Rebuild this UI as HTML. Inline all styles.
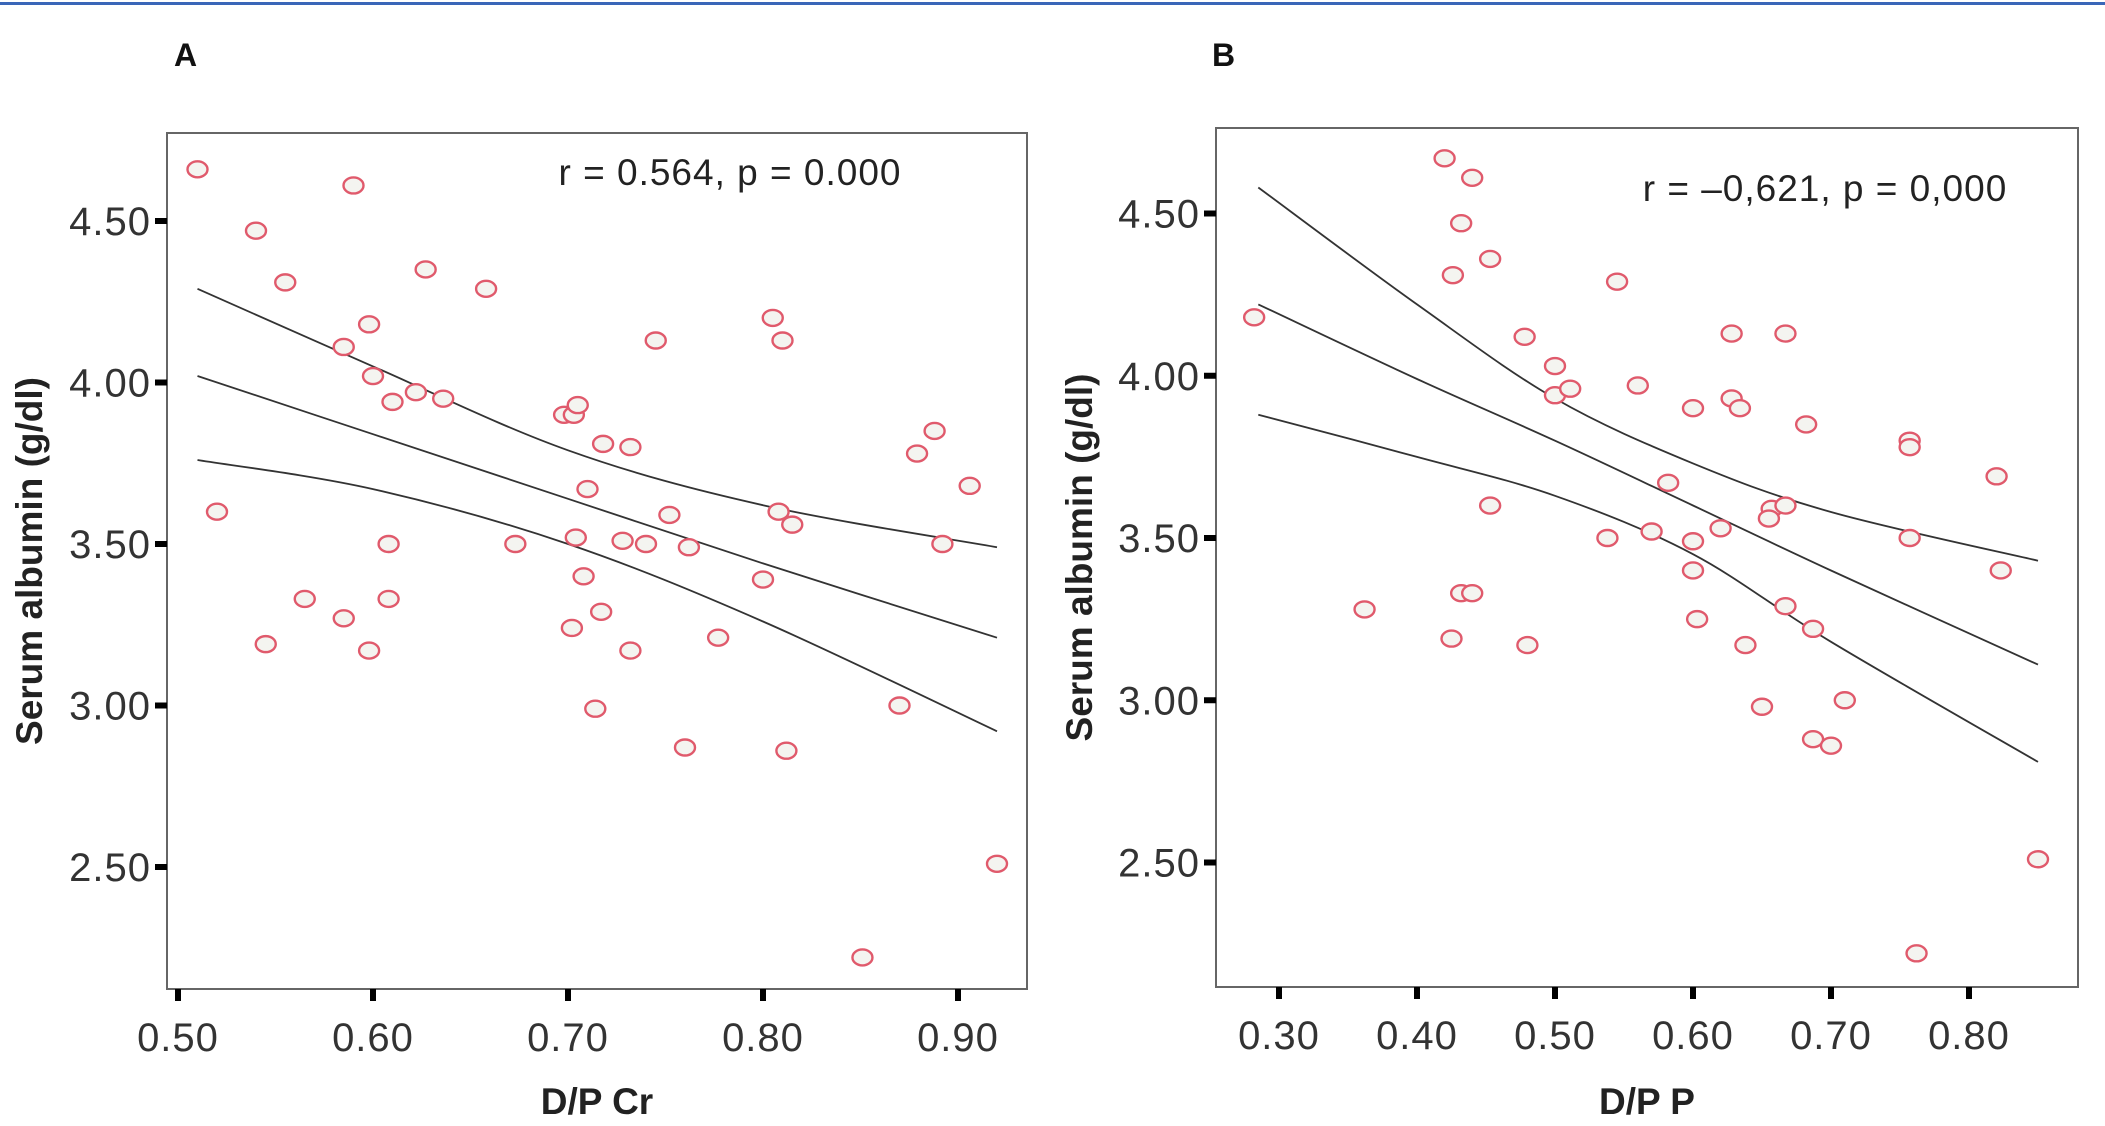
<!DOCTYPE html>
<html><head><meta charset="utf-8"><style>
html,body{margin:0;padding:0;background:#fff;}
svg{display:block;font-family:"Liberation Sans",sans-serif;}
</style></head><body>
<svg id="fig" width="2105" height="1126" viewBox="0 0 2105 1126">
<rect x="0" y="2" width="2105" height="3" fill="#3a66b8"/>
</svg>
<script>
const aX=[0.51,0.59,0.54,0.555,0.627,0.658,0.598,0.585,0.805,0.81,0.745,0.60,0.61,0.622,0.636,0.698,0.703,0.705,0.718,0.732,0.888,0.879,0.906,0.71,0.752,0.808,0.815,0.52,0.608,0.673,0.704,0.728,0.74,0.762,0.892,0.708,0.80,0.565,0.608,0.585,0.717,0.702,0.545,0.598,0.732,0.777,0.714,0.87,0.76,0.812,0.92,0.851];
const aY=[4.66,4.61,4.47,4.31,4.35,4.29,4.18,4.11,4.20,4.13,4.13,4.02,3.94,3.97,3.95,3.90,3.90,3.93,3.81,3.80,3.85,3.78,3.68,3.67,3.59,3.60,3.56,3.60,3.50,3.50,3.52,3.51,3.50,3.49,3.50,3.40,3.39,3.33,3.33,3.27,3.29,3.24,3.19,3.17,3.17,3.21,2.99,3.00,2.87,2.86,2.51,2.22];
const aLineX=[0.51,0.60,0.70,0.80,0.92];
const aFit=[4.02,3.84,3.64,3.44,3.21];
const aUpper=[4.29,4.05,3.79,3.62,3.49];
const aLower=[3.76,3.67,3.50,3.26,2.92];
const aXTicks=[0.50,0.60,0.70,0.80,0.90];
const aYTicks=[2.50,3.00,3.50,4.00,4.50];

const bX=[0.282,0.42,0.44,0.432,0.453,0.426,0.545,0.478,0.628,0.667,0.50,0.50,0.511,0.56,0.60,0.628,0.634,0.682,0.757,0.757,0.82,0.582,0.453,0.657,0.655,0.667,0.538,0.57,0.60,0.62,0.757,0.60,0.823,0.362,0.432,0.44,0.603,0.667,0.687,0.425,0.48,0.638,0.65,0.71,0.687,0.70,0.85,0.762];
const bY=[4.18,4.67,4.61,4.47,4.36,4.31,4.29,4.12,4.13,4.13,4.03,3.94,3.96,3.97,3.90,3.93,3.90,3.85,3.80,3.78,3.69,3.67,3.60,3.59,3.56,3.60,3.50,3.52,3.49,3.53,3.50,3.40,3.40,3.28,3.33,3.33,3.25,3.29,3.22,3.19,3.17,3.17,2.98,3.00,2.88,2.86,2.51,2.22];
const bLineX=[0.285,0.40,0.50,0.60,0.70,0.85];
const bFit=[4.22,3.99,3.80,3.60,3.40,3.11];
const bUpper=[4.58,4.22,3.93,3.73,3.58,3.43];
const bLower=[3.88,3.75,3.63,3.45,3.18,2.81];
const bXTicks=[0.30,0.40,0.50,0.60,0.70,0.80];
const bYTicks=[2.50,3.00,3.50,4.00,4.50];

const NS='http://www.w3.org/2000/svg';
const svg=document.getElementById('fig');
function mk(tag,attrs,parent,text){const e=document.createElementNS(NS,tag);for(const k in attrs)e.setAttribute(k,attrs[k]);if(text!==undefined)e.textContent=text;(parent||svg).appendChild(e);return e;}
function smooth(p){
  let d='M'+p[0][0].toFixed(1)+','+p[0][1].toFixed(1);
  for(let i=0;i<p.length-1;i++){
    const p0=p[i-1]||p[i],p1=p[i],p2=p[i+1],p3=p[i+2]||p2;
    const c1=[p1[0]+(p2[0]-p0[0])/6,p1[1]+(p2[1]-p0[1])/6];
    const c2=[p2[0]-(p3[0]-p1[0])/6,p2[1]-(p3[1]-p1[1])/6];
    d+=' C'+c1.map(v=>v.toFixed(1)).join(',')+' '+c2.map(v=>v.toFixed(1)).join(',')+' '+p2.map(v=>v.toFixed(1)).join(',');
  }
  return d;
}

function panel(cfg){
  const g=mk('g',{});
  
  
  const sx=v=>cfg.x0+(v-cfg.xv0)*cfg.xs;
  const sy=v=>cfg.y0+(cfg.yv0-v)*cfg.ys;
  const box=mk('rect',{x:cfg.L,y:cfg.T,width:cfg.R-cfg.L,height:cfg.B-cfg.T,fill:'none',stroke:'#666','stroke-width':2},g);
  
  
  cfg.yt.forEach(v=>{
    const t=mk('rect',{x:cfg.L-12,y:sy(v)-3,width:12,height:6,fill:'#000'},g);
    
    
    const l=mk('text',{x:cfg.L-16,y:sy(v)+14,'text-anchor':'end','font-size':40,'letter-spacing':1,fill:'#333'},g,v.toFixed(2));
    
    
  });
  cfg.xt.forEach(v=>{
    const t=mk('rect',{x:sx(v)-3,y:cfg.B,width:6,height:12,fill:'#000'},g);
    
    
    const l=mk('text',{x:sx(v),y:cfg.B+62,'text-anchor':'middle','font-size':40,'letter-spacing':1,fill:'#333'},g,v.toFixed(2));
    
    
  });
  [[cfg.fit,'fit-line'],[cfg.up,'upper-ci-line'],[cfg.lo,'lower-ci-line']].forEach(([arr,n])=>{
    const pts=cfg.lx.map((x,i)=>[sx(x),sy(arr[i])]);
    const p=mk('path',{d:smooth(pts),fill:'none',stroke:'#333','stroke-width':1.8},g);
    
    
  });
  cfg.px.forEach((x,i)=>{
    const c=mk('ellipse',{cx:sx(x),cy:sy(cfg.py[i]),rx:10,ry:8,fill:'#f4f4f0',stroke:'#e05a6c','stroke-width':2.4},g);
    
    
  });
  const st=mk('text',{x:cfg.statX,y:cfg.statY,'text-anchor':'middle','font-size':37,'letter-spacing':1,fill:'#222'},g,cfg.stat);
  
  
  const xt=mk('text',{x:(cfg.L+cfg.R)/2,y:1114,'text-anchor':'middle','font-size':37,'font-weight':'bold',fill:'#222'},g,cfg.xtitle);
  
  
  const yc=(cfg.T+cfg.B)/2;
  const yt=mk('text',{x:cfg.ytX,y:yc,'text-anchor':'middle','font-size':37,'font-weight':'bold',fill:'#222',transform:'rotate(-90 '+cfg.ytX+' '+yc+')'},g,'Serum albumin (g/dl)');
  
  
  const lt=mk('text',{x:cfg.letterX,y:66,'font-size':32,'font-weight':'bold',fill:'#111'},g,cfg.letter);
  
  
}

panel({name:'panel-a',L:167,T:133,R:1027,B:989,x0:178,xv0:0.5,xs:1950,y0:221,yv0:4.5,ys:323,
  xt:aXTicks,yt:aYTicks,px:aX,py:aY,lx:aLineX,fit:aFit,up:aUpper,lo:aLower,
  stat:'r = 0.564, p = 0.000',statX:730,statY:185,xtitle:'D/P Cr',ytX:42,letter:'A',letterX:174});
panel({name:'panel-b',L:1216,T:128,R:2078,B:987,x0:1279,xv0:0.3,xs:1380,y0:213.5,yv0:4.5,ys:324.5,
  xt:bXTicks,yt:bYTicks,px:bX,py:bY,lx:bLineX,fit:bFit,up:bUpper,lo:bLower,
  stat:'r = \u20130,621, p = 0,000',statX:1825,statY:201,xtitle:'D/P P',ytX:1092,letter:'B',letterX:1212});
</script>
</body></html>
